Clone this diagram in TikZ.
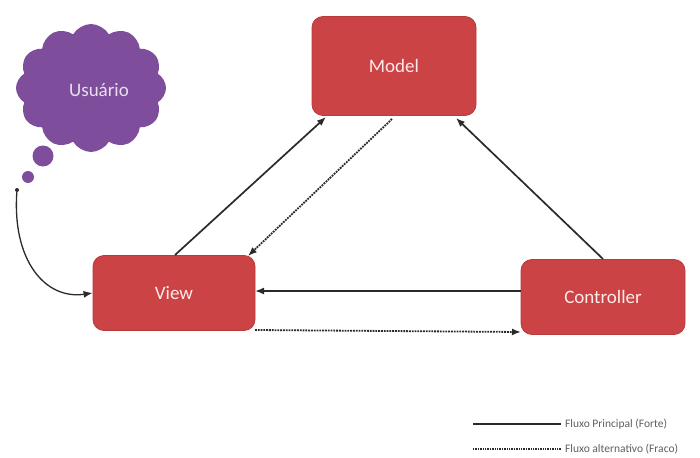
\documentclass[tikz,border=0pt]{standalone}
\usepackage{fontspec}
\setmainfont{Carlito}
\usetikzlibrary{shapes.symbols,arrows.meta}
\definecolor{boxred}{HTML}{CB4344}
\definecolor{boxedge}{HTML}{B83A3A}
\definecolor{cloudpurple}{HTML}{7E4E9C}
\definecolor{linegray}{HTML}{2A2A2A}
\tikzset{
  mvcbox/.style={draw=boxedge, line width=0.8pt, fill=boxred, rounded corners=11pt, text=white!92!red,
    font=\fontsize{19}{22}\selectfont, inner sep=0pt},
  strong/.style={draw=linegray, line width=1.7pt, -{Latex[length=9pt,width=7pt]}},
  weak/.style={draw=linegray, line width=1.8pt, densely dotted, -{Latex[length=9pt,width=7pt]}},
  puff/.style={fill=cloudpurple, draw=none},
  legtext/.style={anchor=west, inner sep=0pt, text=linegray!75, font=\fontsize{11.5}{13}\selectfont},
}
\begin{document}
\begin{tikzpicture}[x=1pt,y=-1pt]
\useasboundingbox[fill=white] (0,0) rectangle (700,457);
% nodes
\node[mvcbox, minimum width=164pt, minimum height=99pt] (model) at (394,66) {Model};
\node[mvcbox, minimum width=162pt, minimum height=75pt] (view) at (174,293) {View};
\node[mvcbox, minimum width=164pt, minimum height=75pt] (ctrl) at (603,297) {Controller};
\node[cloud, cloud puffs=12, cloud puff arc=120, aspect=1.2, puff, minimum width=150pt, minimum height=128pt] (user) at (91,88) {};
\node[text=white!82!cloudpurple, font=\fontsize{19}{22}\selectfont] (usertext) at (99,90) {Usuário};
\node[circle, puff, minimum size=21pt, inner sep=0pt] (b1) at (43,156) {};
\node[circle, puff, minimum size=12pt, inner sep=0pt] (b2) at (28,177) {};
\node[circle, fill=linegray, minimum size=4pt, inner sep=0pt] (b3) at (17,190) {};
% connector end points
\coordinate (vtop) at (175,255);
\coordinate (mbl) at (326,117);
\coordinate (mbot) at (392,119);
\coordinate (vtr) at (248,256);
\coordinate (ctop) at (603,259);
\coordinate (mbr) at (456,118);
\coordinate (cl1) at (521,291);
\coordinate (vr1) at (255,291);
\coordinate (vr2) at (255,330);
\coordinate (cl2) at (521,332);
% connectors
\draw[strong] (vtop) -- (mbl);
\draw[weak] (mbot) -- (vtr);
\draw[strong] (ctop) -- (mbr);
\draw[strong] (cl1) -- (vr1);
\draw[weak] (vr2) -- (cl2);
\draw[draw=linegray, line width=1.3pt, -{Latex[length=9pt,width=7pt]}] (b3) .. controls (12,260) and (45,300) .. (view.west);
% legend
\coordinate (l1a) at (473,424); \coordinate (l1b) at (561,424);
\coordinate (l2a) at (473,449); \coordinate (l2b) at (561,449);
\draw[draw=linegray, line width=1.8pt] (l1a) -- (l1b);
\draw[draw=linegray, line width=1.4pt, densely dotted] (l2a) -- (l2b);
\node[legtext] (leg1) at (565,424) {Fluxo Principal (Forte)};
\node[legtext] (leg2) at (565,449) {Fluxo alternativo (Fraco)};
\end{tikzpicture}
\end{document}
